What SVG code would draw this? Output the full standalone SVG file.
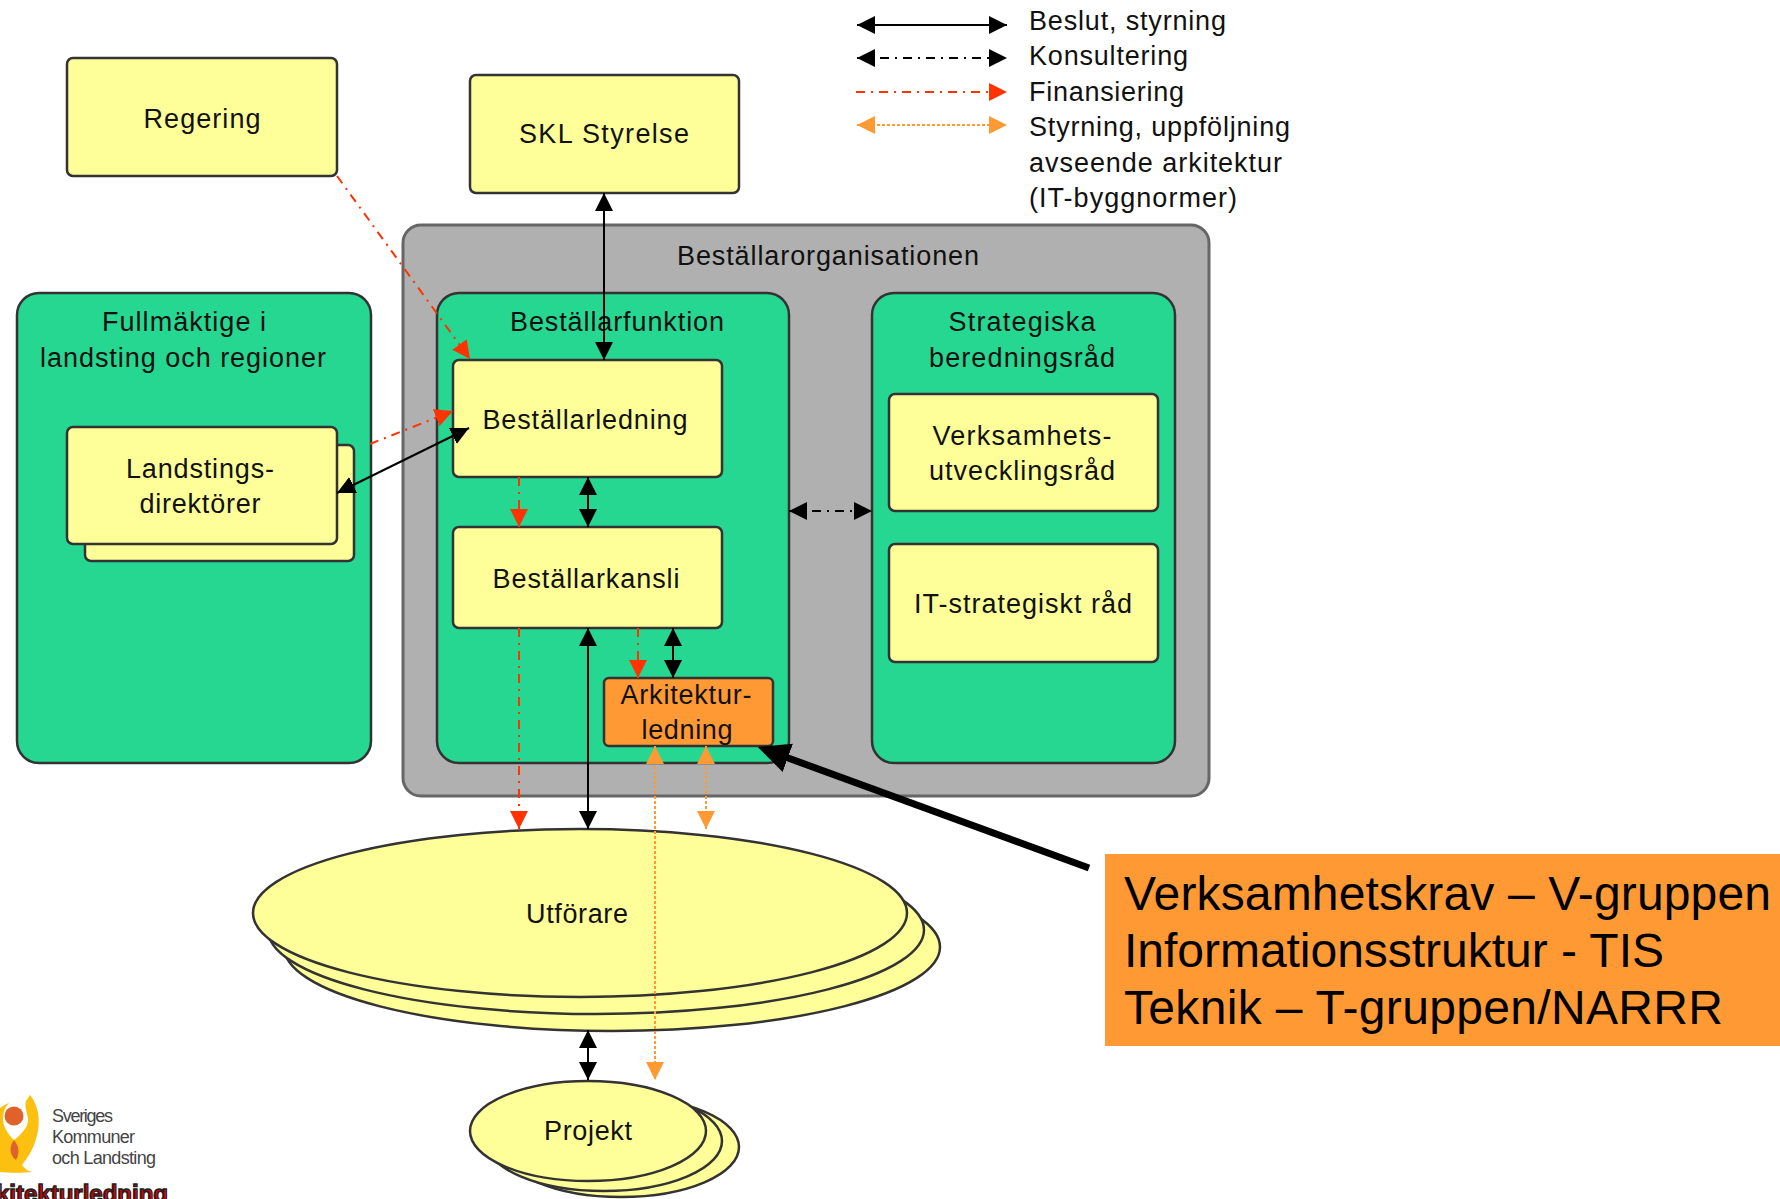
<svg xmlns="http://www.w3.org/2000/svg" width="1780" height="1199" viewBox="0 0 1780 1199">
<defs>
<style>
text{font-family:"Liberation Sans",Arial,sans-serif;font-size:27px;fill:#111}
.box{stroke:#333;stroke-width:2.5}
.y{fill:#ffff99}.g{fill:#26d792}.gr{fill:#b0b0b0;stroke:#666;stroke-width:3}.o{fill:#ff9933}
.c{fill:none;stroke-width:2}
.b{stroke:#000}.k{stroke:#000;stroke-dasharray:9 6 2 6}.r{stroke:#ff3300;stroke-dasharray:9 6 2 6}.a{stroke:#ff9933;stroke-dasharray:3 2}
.bs{marker-start:url(#bk);marker-end:url(#bk)}
.rs{marker-end:url(#rd)}
.as{marker-start:url(#or);marker-end:url(#or)}
text.big{font-size:48px;fill:#000}
text.logo{font-size:18px;fill:#444}
</style>
<marker id="bk" markerUnits="userSpaceOnUse" markerWidth="19" markerHeight="19" refX="18" refY="9" orient="auto-start-reverse"><path d="M0 0L18 9L0 18z" fill="#000"/></marker>
<marker id="rd" markerUnits="userSpaceOnUse" markerWidth="19" markerHeight="19" refX="18" refY="9" orient="auto-start-reverse"><path d="M0 0L18 9L0 18z" fill="#ff3300"/></marker>
<marker id="or" markerUnits="userSpaceOnUse" markerWidth="19" markerHeight="19" refX="18" refY="9" orient="auto-start-reverse"><path d="M0 0L18 9L0 18z" fill="#ff9933"/></marker>
<marker id="bg" markerUnits="userSpaceOnUse" markerWidth="36" markerHeight="36" refX="20" refY="15" orient="auto"><path d="M0 0L32 15L0 30z" fill="#000"/></marker>
</defs>
<rect width="1780" height="1199" fill="#fff"/>

<g id="regering"><rect class="box y" x="67" y="58" width="270" height="118" rx="6"/><text x="202" y="128" text-anchor="middle" textLength="117">Regering</text></g>
<g id="skl-styrelse"><rect class="box y" x="470" y="75" width="269" height="118" rx="6"/><text x="604" y="143" text-anchor="middle" textLength="170">SKL Styrelse</text></g>
<g id="bestallarorganisationen"><rect class="gr" x="403" y="225" width="806" height="571" rx="18"/><text x="828" y="265" text-anchor="middle" textLength="302">Beställarorganisationen</text></g>
<g id="fullmaktige"><rect class="box g" x="17" y="293" width="354" height="470" rx="22"/><text x="184" y="331" text-anchor="middle" textLength="164">Fullmäktige i</text><text x="183" y="367" text-anchor="middle" textLength="286">landsting och regioner</text></g>
<g id="landstingsdirektorer"><rect class="box y" x="85" y="445" width="269" height="116" rx="6"/><rect class="box y" x="67" y="427" width="270" height="117" rx="6"/><text x="200" y="478" text-anchor="middle" textLength="148">Landstings-</text><text x="200" y="513" text-anchor="middle" textLength="121">direktörer</text></g>
<g id="bestallarfunktion"><rect class="box g" x="437" y="293" width="352" height="470" rx="22"/><text x="617" y="331" text-anchor="middle" textLength="214">Beställarfunktion</text></g>
<g id="strategiska"><rect class="box g" x="872" y="293" width="303" height="470" rx="22"/><text x="1022" y="331" text-anchor="middle" textLength="147">Strategiska</text><text x="1022" y="367" text-anchor="middle" textLength="186">beredningsråd</text></g>
<g id="bestallarledning"><rect class="box y" x="453" y="360" width="269" height="117" rx="6"/><text x="585" y="429" text-anchor="middle" textLength="205">Beställarledning</text></g>
<g id="bestallarkansli"><rect class="box y" x="453" y="527" width="269" height="101" rx="6"/><text x="586" y="588" text-anchor="middle" textLength="187">Beställarkansli</text></g>
<g id="arkitekturledning"><rect class="box o" x="604" y="678" width="169" height="68" rx="5"/><text x="686" y="704" text-anchor="middle" textLength="131">Arkitektur-</text><text x="687" y="739" text-anchor="middle" textLength="91">ledning</text></g>
<g id="verksamhetsutvecklingsrad"><rect class="box y" x="889" y="394" width="269" height="117" rx="6"/><text x="1022" y="445" text-anchor="middle" textLength="179">Verksamhets-</text><text x="1022" y="480" text-anchor="middle" textLength="186">utvecklingsråd</text></g>
<g id="it-strategiskt-rad"><rect class="box y" x="889" y="544" width="269" height="118" rx="6"/><text x="1023" y="613" text-anchor="middle" textLength="218">IT-strategiskt råd</text></g>
<g id="utforare"><ellipse class="box y" cx="612" cy="947" rx="328" ry="84"/><ellipse class="box y" cx="596" cy="930" rx="328" ry="84"/><ellipse class="box y" cx="580" cy="913" rx="327" ry="84"/><text x="577" y="923" text-anchor="middle" textLength="102">Utförare</text></g>
<g id="projekt"><ellipse class="box y" cx="621" cy="1147" rx="118" ry="50"/><ellipse class="box y" cx="604" cy="1141" rx="118" ry="50"/><ellipse class="box y" cx="588" cy="1131" rx="118" ry="50"/><text x="588" y="1140" text-anchor="middle" textLength="88">Projekt</text></g>

<g id="connectors">
<path class="c r rs" d="M337 176L470 359"/>
<path class="c r rs" d="M370 444L453 411"/>
<path class="c b bs" d="M337 493L469 428"/>
<path class="c b bs" d="M604 193V360"/>
<path class="c r rs" d="M519 477V527"/>
<path class="c b bs" d="M588 477V527"/>
<path class="c r rs" d="M519 628V829"/>
<path class="c b bs" d="M588 628V829"/>
<path class="c r rs" d="M638 628V678"/>
<path class="c b bs" d="M673 628V678"/>
<path class="c a as" d="M655 746V1080"/>
<path class="c a as" d="M706 746V829"/>
<path class="c b bs" d="M588 1030V1080"/>
<path class="c k bs" d="M789 511H872"/>
<path d="M1089 868L769 751" fill="none" stroke="#000" stroke-width="7" marker-end="url(#bg)"/>
</g>

<g id="legend">
<path class="c b bs" d="M857 25H1007"/>
<path class="c k bs" d="M857 58H1007"/>
<path class="c r rs" d="M856 92H1007"/>
<path class="c a as" d="M857 125H1007"/>
<text x="1029" y="30" textLength="197">Beslut, styrning</text>
<text x="1029" y="65" textLength="159">Konsultering</text>
<text x="1029" y="101" textLength="155">Finansiering</text>
<text x="1029" y="136" textLength="261">Styrning, uppföljning</text>
<text x="1029" y="172" textLength="253">avseende arkitektur</text>
<text x="1029" y="207" textLength="208">(IT-byggnormer)</text>
</g>

<g id="verksamhetskrav">
<rect class="o" x="1105" y="854" width="675" height="192"/>
<text class="big" x="1124" y="910" textLength="647">Verksamhetskrav – V-gruppen</text>
<text class="big" x="1124" y="967" textLength="540">Informationsstruktur - TIS</text>
<text class="big" x="1124" y="1024" textLength="599">Teknik – T-gruppen/NARRR</text>
</g>

<g id="logo">
<path d="M30 1095C42 1110 40 1130 34 1145C30 1155 24 1162 22 1165C25 1169 28 1171 32 1172C22 1173 10 1173 0 1172V1108C4 1105 8 1103 12 1102L20 1110Z" fill="#fcc010"/>
<path d="M14 1140C8 1134 2 1126 3 1116C4 1108 8 1103 12 1101L20 1100L27 1097C24 1103 26 1110 28 1118C29 1126 22 1134 14 1140Z" fill="#fff"/>
<circle cx="14" cy="1116" r="9.5" fill="#e0622a"/>
<path d="M14 1140C9 1146 9 1155 16 1160C20 1153 19 1146 14 1140Z" fill="#e0622a"/>
<text class="logo" x="52" y="1122" textLength="61">Sveriges</text>
<text class="logo" x="52" y="1143" textLength="83">Kommuner</text>
<text class="logo" x="52" y="1164" textLength="104">och Landsting</text>
<text x="168" y="1202" text-anchor="end" style="font-size:24px;font-weight:bold;fill:#cc0000;stroke:#222;stroke-width:1.4">Arkitekturledning</text>
</g>
</svg>
